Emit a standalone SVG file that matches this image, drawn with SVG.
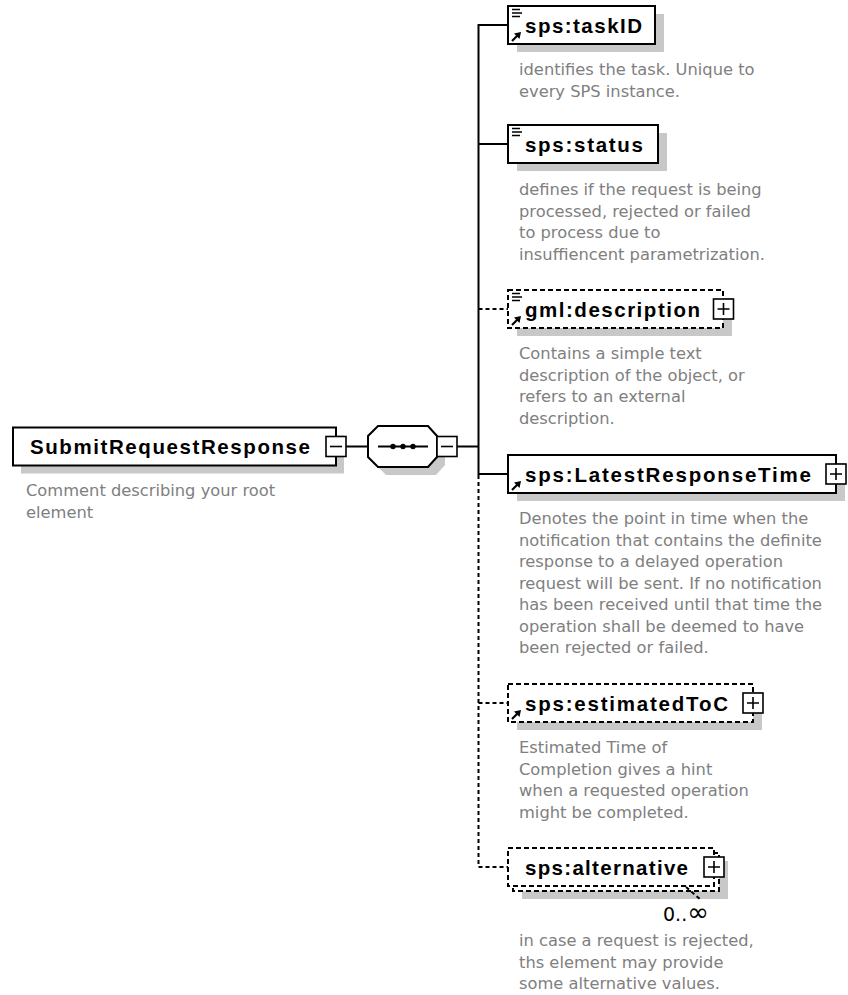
<svg xmlns="http://www.w3.org/2000/svg" xmlns:xlink="http://www.w3.org/1999/xlink" width="848" height="995" viewBox="0 0 848 995">
<style>
.box{fill:#fff;stroke:#000;stroke-width:2}
.opt{stroke-dasharray:5 3}
.shadow{fill:#c8c8c8}
.name{font-family:"Liberation Sans",Arial,sans-serif;font-weight:bold;font-size:20.5px;fill:#000}
.doc{font-family:"DejaVu Sans",Verdana,sans-serif;font-size:16.3px;fill:#808080}
.occ{font-family:"DejaVu Sans",Verdana,sans-serif;font-size:19px;fill:#000}
.con{stroke:#000;stroke-width:2;fill:none}
.dash{stroke-dasharray:4 3}
.btn{fill:#fff;stroke:#000;stroke-width:1.6}
.sign{stroke:#000;stroke-width:1.6;fill:none}
.icon{stroke:#000;stroke-width:1.5;fill:none}
</style>
<defs>
<g id="lines"><path class="icon" d="M0,0.5h8M0,4h10M0,7.5h8"/></g>
<g id="ref"><path stroke="#000" stroke-width="2.2" fill="none" d="M0,9L6,3"/><polygon fill="#000" points="9,0 2,1.5 7.5,7"/></g>
<g id="plus"><rect class="btn" x="0" y="0" width="20" height="20"/><path class="sign" d="M4,10H16M10,4V16"/></g>
<g id="minus"><rect class="btn" x="0" y="0" width="20" height="20"/><path class="sign" d="M4,10H16"/></g>
</defs>
<rect x="0" y="0" width="848" height="995" fill="#fff"/>

<g id="connectors">
<path class="con" d="M346,446.5H368"/>
<path class="con" d="M457,446.5H478.5"/>
<path class="con" d="M508,25H478.5V474H508"/>
<path class="con" d="M478.5,144H508"/>
<path class="con dash" d="M478.5,309H508"/>
<path class="con dash" d="M478.5,475V867H508"/>
<path class="con dash" d="M478.5,703H508"/>
</g>

<g id="root">
<rect class="shadow" x="21" y="435.5" width="323" height="38"/>
<rect class="box" x="13" y="427.5" width="323" height="38"/>
<text class="name" x="30" y="454" textLength="280">SubmitRequestResponse</text>
<use xlink:href="#minus" x="326" y="436.5"/>
<text class="doc" x="26" y="496">Comment describing your root</text>
<text class="doc" x="26" y="517.5">element</text>
</g>

<g id="sequence">
<polygon class="shadow" points="386,434 436,434 445,444 445,465 436,475 386,475 376,465 376,444"/>
<polygon class="box" points="378,426 428,426 437,436 437,457 428,467 378,467 368,457 368,436"/>
<path class="con" d="M378,446.5H428"/>
<circle cx="393" cy="446.5" r="2.7"/>
<circle cx="403" cy="446.5" r="2.7"/>
<circle cx="413" cy="446.5" r="2.7"/>
<use xlink:href="#minus" x="437" y="436.5"/>
</g>

<g id="taskID">
<rect class="shadow" x="517" y="14" width="147" height="38"/>
<rect class="box" x="508" y="6" width="147" height="38"/>
<use xlink:href="#lines" x="512" y="9"/>
<use xlink:href="#ref" x="512" y="32"/>
<text class="name" x="525" y="32.5" textLength="117">sps:taskID</text>
<text class="doc" x="519" y="75">identifies the task. Unique to</text>
<text class="doc" x="519" y="96.5">every SPS instance.</text>
</g>

<g id="status">
<rect class="shadow" x="517" y="133" width="150" height="38"/>
<rect class="box" x="508" y="125" width="150" height="38"/>
<use xlink:href="#lines" x="512" y="128"/>
<text class="name" x="525" y="151.5" textLength="118">sps:status</text>
<text class="doc" x="519" y="195">defines if the request is being</text>
<text class="doc" x="519" y="216.5">processed, rejected or failed</text>
<text class="doc" x="519" y="238">to process due to</text>
<text class="doc" x="519" y="259.5">insuffiencent parametrization.</text>
</g>

<g id="description">
<rect class="shadow" x="517" y="298" width="215" height="38"/>
<rect class="box opt" x="508" y="290" width="215" height="38"/>
<use xlink:href="#lines" x="512" y="293"/>
<use xlink:href="#ref" x="512" y="316"/>
<text class="name" x="525" y="316.5" textLength="175">gml:description</text>
<use xlink:href="#plus" x="713.5" y="299"/>
<text class="doc" x="519" y="359">Contains a simple text</text>
<text class="doc" x="519" y="380.5">description of the object, or</text>
<text class="doc" x="519" y="402">refers to an external</text>
<text class="doc" x="519" y="423.5">description.</text>
</g>

<g id="LatestResponseTime">
<rect class="shadow" x="517" y="463" width="328" height="38"/>
<rect class="box" x="508" y="455" width="328" height="38"/>
<use xlink:href="#ref" x="512" y="481"/>
<text class="name" x="525" y="481.5" textLength="286">sps:LatestResponseTime</text>
<use xlink:href="#plus" x="826" y="464"/>
<text class="doc" x="519" y="524">Denotes the point in time when the</text>
<text class="doc" x="519" y="545.5">notification that contains the definite</text>
<text class="doc" x="519" y="567">response to a delayed operation</text>
<text class="doc" x="519" y="588.5">request will be sent. If no notification</text>
<text class="doc" x="519" y="610">has been received until that time the</text>
<text class="doc" x="519" y="631.5">operation shall be deemed to have</text>
<text class="doc" x="519" y="653">been rejected or failed.</text>
</g>

<g id="estimatedToC">
<rect class="shadow" x="517" y="692" width="245" height="38"/>
<rect class="box opt" x="508" y="684" width="245" height="38"/>
<use xlink:href="#ref" x="512" y="710"/>
<text class="name" x="525" y="710.5" textLength="203">sps:estimatedToC</text>
<use xlink:href="#plus" x="743" y="693"/>
<text class="doc" x="519" y="753">Estimated Time of</text>
<text class="doc" x="519" y="774.5">Completion gives a hint</text>
<text class="doc" x="519" y="796">when a requested operation</text>
<text class="doc" x="519" y="817.5">might be completed.</text>
</g>

<g id="alternative">
<rect class="shadow" x="522" y="861" width="206" height="38"/>
<rect class="box opt" x="513" y="853" width="206" height="38"/>
<rect class="box opt" x="508" y="848" width="206" height="38"/>
<text class="name" x="525" y="874.5" textLength="163">sps:alternative</text>
<use xlink:href="#plus" x="704" y="857"/>
<path class="con dash" stroke-width="1.6" d="M686,887L701,900"/>
<text class="occ" x="663" y="921">0..<tspan font-size="26">∞</tspan></text>
<text class="doc" x="519" y="946">in case a request is rejected,</text>
<text class="doc" x="519" y="967.5">ths element may provide</text>
<text class="doc" x="519" y="989">some alternative values.</text>
</g>
</svg>
